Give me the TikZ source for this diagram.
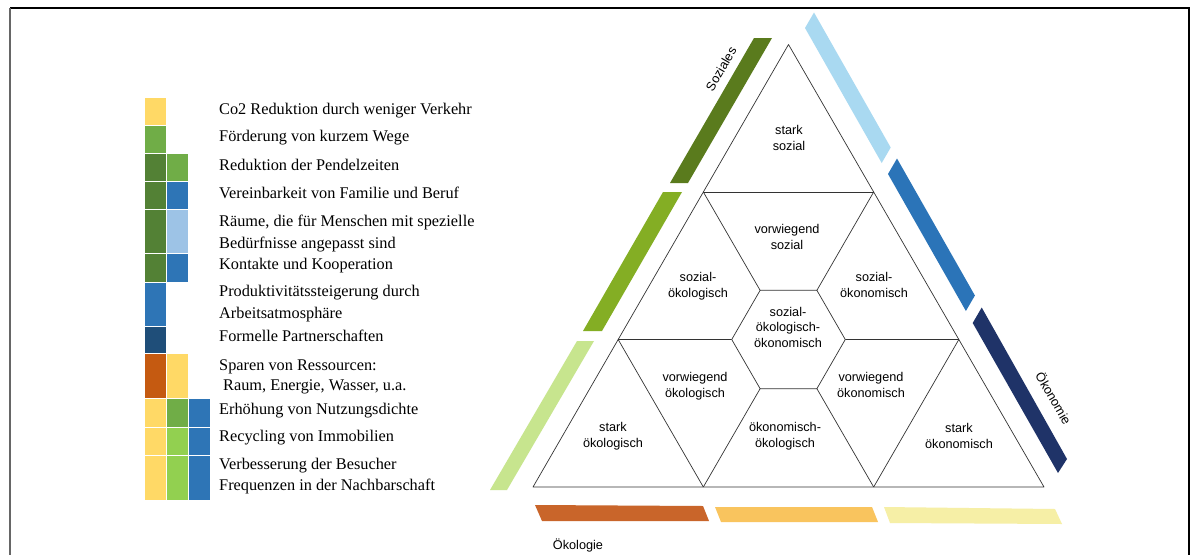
\documentclass[tikz,border=0pt]{standalone}
\usepackage{fontspec}
\setmainfont{Liberation Serif}
\newfontfamily\arialfont{Liberation Sans}
\usetikzlibrary{calc}
\definecolor{cy}{HTML}{FFD966}
\definecolor{cg}{HTML}{70AD47}
\definecolor{cdg}{HTML}{538135}
\definecolor{cb}{HTML}{2E75B6}
\definecolor{clb}{HTML}{9DC3E6}
\definecolor{cdb}{HTML}{1F4E79}
\definecolor{co}{HTML}{C55A11}
\definecolor{clg}{HTML}{92D050}
\definecolor{bdg}{HTML}{5A7B1D}
\definecolor{bmg}{HTML}{84AE24}
\definecolor{blg}{HTML}{C7E58E}
\definecolor{blb}{HTML}{A9D9F1}
\definecolor{bmb}{HTML}{2B74B8}
\definecolor{bnv}{HTML}{1F3368}
\definecolor{bor}{HTML}{C9652A}
\definecolor{blo}{HTML}{F9C45E}
\definecolor{bpy}{HTML}{F6EFA6}
\definecolor{tline}{HTML}{333333}
\begin{document}
\begin{tikzpicture}[x=1pt,y=-1pt,
  cell/.style={draw=white,line width=0.8pt},
  lt/.style={anchor=base west,inner sep=0pt,font=\fontsize{16.3}{20}\selectfont},
  tl/.style={align=center,inner sep=0pt,font=\arialfont\fontsize{12.7}{15.5}\selectfont},
  tri/.style={draw=tline,line width=0.7pt,line join=round},
  barlabel/.style={inner sep=0pt,font=\arialfont\fontsize{12.7}{15.5}\selectfont}]
\useasboundingbox (0,0) rectangle (1197,555);
\fill[white] (0,0) rectangle (1197,555);
% frame
\draw[black,line width=1.2pt] (10,8) -- (1189,8) -- (1189,555);
\draw[gray!80!black,line width=1.6pt] (10,8) -- (10,555);
% colour cells
\foreach \c/\x/\ya/\yb in {cy/144/97/125, cg/144/125/153,
  cdg/144/153/181, cg/166/153/181,
  cdg/144/181/209, cb/166/181/209,
  cdg/144/209/253, clb/166/209/253,
  cdg/144/253/282, cb/166/253/282,
  cb/144/282/326, cdb/144/326/353,
  co/144/353/398, cy/166/353/398,
  cy/144/398/427, cg/166/398/427, cb/188/398/427,
  cy/144/427/455, clg/166/427/455, cb/188/427/455,
  cy/144/455/500, clg/166/455/500, cb/188/455/500}
  \filldraw[cell,fill=\c] (\x,\ya) rectangle (\x+22,\yb);
% left texts
\node[lt] (t1) at (219,114) {Co2 Reduktion durch weniger Verkehr};
\node[lt] (t2) at (219,141.7) {Förderung von kurzem Wege};
\node[lt] (t3) at (219,170) {Reduktion der Pendelzeiten};
\node[lt] (t4) at (219,198.3) {Vereinbarkeit von Familie und Beruf};
\node[lt] (t5) at (219,226.7) {Räume, die für Menschen mit spezielle};
\node[lt] (t5b) at (219,248.3) {Bedürfnisse angepasst sind};
\node[lt] (t6) at (219,269) {Kontakte und Kooperation};
\node[lt] (t7) at (219,296.7) {Produktivitätssteigerung durch};
\node[lt] (t7b) at (219,318.3) {Arbeitsatmosphäre};
\node[lt] (t8) at (219,341.7) {Formelle Partnerschaften};
\node[lt] (t9) at (219,370) {Sparen von Ressourcen:};
\node[lt] (t9b) at (223,390) {Raum, Energie, Wasser, u.a.};
\node[lt] (t10) at (219,414) {Erhöhung von Nutzungsdichte};
\node[lt] (t11) at (219,441.7) {Recycling von Immobilien};
\node[lt] (t12) at (219,469) {Verbesserung der Besucher};
\node[lt] (t12b) at (219,490.7) {Frequenzen in der Nachbarschaft};
% side bars
\fill[bdg] (754,38) -- (772,38) -- (688,183) -- (670,183) -- cycle;
\fill[bmg] (663,192) -- (682,192) -- (602,331) -- (583,331) -- cycle;
\fill[blg] (577,341) -- (594,341) -- (507,490) -- (490,490) -- cycle;
\fill[blb] (805,28) -- (814,12.5) -- (890.7,147.5) -- (881.7,163) -- cycle;
\fill[bmb] (888,174) -- (897,158.5) -- (974.9,295.5) -- (965.9,311) -- cycle;
\fill[bnv] (972.7,323) -- (981.7,307.5) -- (1067,459) -- (1058,473) -- cycle;
\fill[bor] (535,505) -- (703,506) -- (709,521) -- (542,521) -- cycle;
\fill[blo] (715,507) -- (872,507) -- (878,522) -- (721,522) -- cycle;
\fill[bpy] (884,507) -- (1055,509) -- (1062,524) -- (890,523) -- cycle;
\node[barlabel,rotate=60] (soz) at (721,69) {Soziales};
\node[barlabel,rotate=-60] (oek) at (1054,398) {Ökonomie};
\node[barlabel] (eko) at (578,545) {Ökologie};
% triangle
\coordinate (A) at (788.5,44.5);
\coordinate (B) at (533,487);
\coordinate (C) at (1044,487);
\coordinate (AB1) at ($(A)!1/3!(B)$);
\coordinate (AB2) at ($(A)!2/3!(B)$);
\coordinate (AC1) at ($(A)!1/3!(C)$);
\coordinate (AC2) at ($(A)!2/3!(C)$);
\coordinate (BC1) at ($(B)!1/3!(C)$);
\coordinate (BC2) at ($(B)!2/3!(C)$);
\coordinate (G) at ($(AB2)!1/2!(AC2)$);
\coordinate (HL) at ($(AB2)!2/3!(G)$);
\coordinate (HR) at ($(AC2)!2/3!(G)$);
\coordinate (HTL) at ($(AB1)!2/3!(G)$);
\coordinate (HTR) at ($(AC1)!2/3!(G)$);
\coordinate (HBL) at ($(BC1)!2/3!(G)$);
\coordinate (HBR) at ($(BC2)!2/3!(G)$);
\draw[tri] (A) -- (B) -- (C) -- cycle;
\draw[tri] (AB1) -- (AC1);
\draw[tri] (AB2) -- (HL);
\draw[tri] (HR) -- (AC2);
\draw[tri] (AB1) -- (HTL);
\draw[tri] (AC1) -- (HTR);
\draw[tri] (AB2) -- (BC1);
\draw[tri] (AC2) -- (BC2);
\draw[tri] (BC1) -- (HBL);
\draw[tri] (BC2) -- (HBR);
\draw[tri] (HL) -- (HTL) -- (HTR) -- (HR) -- (HBR) -- (HBL) -- cycle;
% triangle labels
\node[tl] (ss) at (789,138) {stark\\sozial};
\node[tl] (vs) at (787,237) {vorwiegend\\sozial};
\node[tl] (soe) at (698,286) {sozial-\\ökologisch};
\node[tl] (sok) at (874,285) {sozial-\\ökonomisch};
\node[tl] (soeo) at (788,327) {sozial-\\ökologisch-\\ökonomisch};
\node[tl] (voe) at (695,386) {vorwiegend\\ökologisch};
\node[tl] (vok) at (871,385) {vorwiegend\\ökonomisch};
\node[tl] (se) at (613,436) {stark\\ökologisch};
\node[tl] (oeoe) at (785,436) {ökonomisch-\\ökologisch};
\node[tl] (sk) at (959,436) {stark\\ökonomisch};
\end{tikzpicture}
\end{document}
